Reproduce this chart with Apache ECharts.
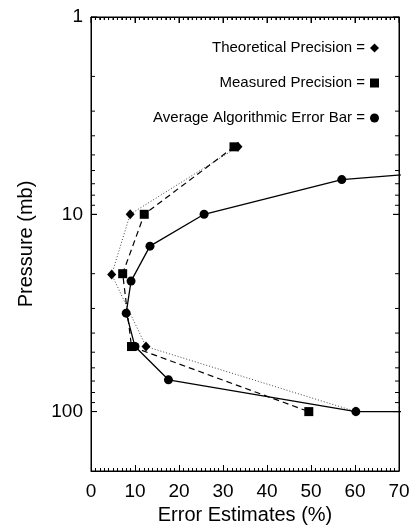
<!DOCTYPE html>
<html>
<head>
<meta charset="utf-8">
<script src="https://cdn.jsdelivr.net/npm/echarts@6/dist/echarts.min.js"></script>
<style>
html,body{margin:0;padding:0;background:#fff;}
#chart{width:412px;height:525px;}
</style>
</head>
<body>
<div id="chart"></div>
<script>
// ---- data ----
var seriesNames = ['Theoretical Precision', 'Measured Precision', 'Average Algorithmic Error Bar'];
var theoPressure = [4.55, 10, 20.2, 46.8, 100];
var theoError    = [33.4, 8.9, 4.7, 12.5, 60.2];
var measPressure = [4.55, 10, 20, 46.8, 100];
var measError    = [32.5, 12.1, 7.2, 9.2, 49.5];
var avgPressure  = [6.07, 6.67, 10, 14.5, 21.8, 31.7, 46.8, 69, 100, 100];
var avgError     = [80, 57.0, 25.7, 13.4, 9.1, 8.0, 10.0, 17.6, 60.2, 80];
var xTicks = [0, 10, 20, 30, 40, 50, 60, 70];
var yTickLabels = [1, 10, 100];
var yMinorTicks = [2, 3, 4, 5, 6, 7, 8, 9, 20, 30, 40, 50, 60, 70, 80, 90];

function pairs(xs, ys) { return xs.map(function (x, i) { return [x, ys[i]]; }); }

// top-edge tick values (every 1 unit between the labelled ticks)
var topTickValues = [];
for (var t = xTicks[0]; t <= xTicks[xTicks.length - 1]; t++) topTickValues.push(t);

var FONT = 'Liberation Sans, Arial, Helvetica, sans-serif';
var chart = echarts.init(document.getElementById('chart'), null, {renderer: 'canvas'});

function xAxisCfg(pos, main) {
  var a = {
    type: 'value', position: pos, min: xTicks[0], max: xTicks[xTicks.length - 1], interval: 10,
    axisLine: {show: true, onZero: false, lineStyle: {color: '#000', width: 1}},
    axisTick: {show: true, inside: true, length: 6, lineStyle: {color: '#000'}},
    minorTick: {show: true, splitNumber: 10, length: 3, lineStyle: {color: '#000'}},
    splitLine: {show: false}, minorSplitLine: {show: false},
    axisLabel: {show: main, color: '#000', fontFamily: FONT, fontSize: 19, margin: 11}
  };
  if (main) {
    a.name = 'Error Estimates (%)';
    a.nameLocation = 'middle'; a.nameGap = 32;
    a.nameTextStyle = {color: '#000', fontFamily: FONT, fontSize: 20};
  }
  return a;
}
function yAxisCfg(pos, main) {
  var a = {
    type: 'log', logBase: 10, position: pos, min: 1, max: 200, inverse: true,
    axisLine: {show: true, onZero: false, lineStyle: {color: '#000', width: 1}},
    axisTick: {show: true, inside: true, length: 6, lineStyle: {color: '#000'}},
    splitLine: {show: false},
    axisLabel: {
      show: main, color: '#000', fontFamily: FONT, fontSize: 19, margin: 8,
      formatter: function (v) { return yTickLabels.indexOf(Math.round(v)) >= 0 ? String(Math.round(v)) : ''; }
    }
  };
  if (main) {
    a.name = 'Pressure (mb)';
    a.nameLocation = 'middle'; a.nameGap = 55; a.nameRotate = 90;
    a.nameTextStyle = {color: '#000', fontFamily: FONT, fontSize: 20};
  }
  return a;
}

var option = {
  backgroundColor: '#fff',
  animation: false,
  grid: {left: 91, right: 13, top: 17, bottom: 54, show: true, borderColor: '#000', borderWidth: 1,
         backgroundColor: 'transparent', outerBoundsMode: 'none'},
  xAxis: [xAxisCfg('bottom', true), xAxisCfg('top', false)],
  yAxis: [yAxisCfg('left', true), yAxisCfg('right', false)],
  legend: {
    orient: 'vertical', right: 28, top: 35, align: 'right',
    itemWidth: 9, itemHeight: 9, itemGap: 19,
    textStyle: {color: '#000', fontFamily: FONT, fontSize: 15, lineHeight: 16},
    formatter: function (n) { return n + ' ='; },
    data: [
      {name: seriesNames[0], icon: 'diamond', itemStyle: {color: '#000'}},
      {name: seriesNames[1], icon: 'rect', itemStyle: {color: '#000'}},
      {name: seriesNames[2], icon: 'circle', itemStyle: {color: '#000'}}
    ],
    selectedMode: false
  },
  series: [
    {
      // log minor ticks on the left and right edges
      type: 'custom', xAxisIndex: 0, yAxisIndex: 0,
      data: yMinorTicks.concat(yTickLabels).map(function (v) { return [0, v]; }),
      renderItem: function (params, api) {
        var v = api.value(1);
        var len = yTickLabels.indexOf(v) >= 0 ? 6 : 4;
        var l = api.coord([xTicks[0], v]);
        var r = api.coord([xTicks[xTicks.length - 1], v]);
        return {type: 'group', children: [
          {type: 'line', shape: {x1: l[0], y1: l[1], x2: l[0] + len, y2: l[1]}, style: {stroke: '#000', lineWidth: 1}},
          {type: 'line', shape: {x1: r[0], y1: r[1], x2: r[0] - len, y2: r[1]}, style: {stroke: '#000', lineWidth: 1}}
        ]};
      }
    },
    {
      // ticks along the top edge
      type: 'custom', xAxisIndex: 0, yAxisIndex: 0,
      data: topTickValues.map(function (v) { return [v, 1]; }),
      renderItem: function (params, api) {
        var v = api.value(0);
        var len = (v % 10 === 0) ? 6 : 3;
        var p = api.coord([v, 1]);
        return {type: 'line', shape: {x1: p[0], y1: p[1], x2: p[0], y2: p[1] + len}, style: {stroke: '#000', lineWidth: 1}};
      }
    },
    {
      name: seriesNames[0], type: 'line', data: pairs(theoError, theoPressure),
      symbol: 'diamond', symbolSize: [9, 10], clip: true,
      itemStyle: {color: '#000'},
      lineStyle: {color: '#444', width: 1, type: [1, 2]},
      z: 3
    },
    {
      name: seriesNames[1], type: 'line', data: pairs(measError, measPressure),
      symbol: 'rect', symbolSize: 9, clip: true,
      itemStyle: {color: '#000'},
      lineStyle: {color: '#000', width: 1.2, type: [6, 4]},
      z: 5
    },
    {
      name: seriesNames[2], type: 'line', data: pairs(avgError, avgPressure),
      symbol: 'circle', symbolSize: 9, clip: true,
      itemStyle: {color: '#000'},
      lineStyle: {color: '#000', width: 1.3},
      z: 4
    }
  ]
};
chart.setOption(option);
</script>
</body>
</html>
